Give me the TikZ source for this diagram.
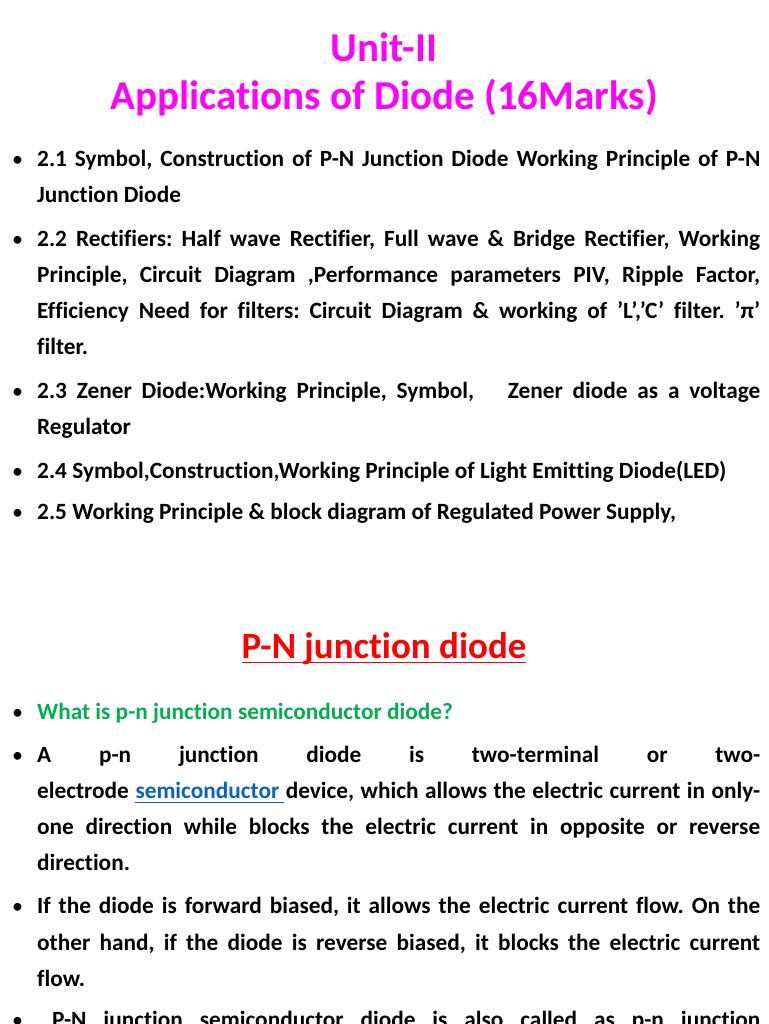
\documentclass[tikz,border=0pt]{standalone}
\usepackage{fontspec}
\setmainfont{Carlito}[Ligatures={NoCommon,NoRequired}]
\usetikzlibrary{calc}
\definecolor{mag}{HTML}{FF00FF}
\definecolor{grn}{HTML}{00B050}
\definecolor{lnk}{HTML}{0563C1}
\frenchspacing
\begin{document}
\begin{tikzpicture}[x=1pt,y=1pt,
  ln/.style={anchor=base west,inner sep=0pt,font=\fontsize{23.3}{26}\selectfont\bfseries},
  bul/.style={anchor=base west,inner sep=0pt,font=\fontsize{22}{24}\selectfont}]
\useasboundingbox (0,0) rectangle (768,-1024);
\clip (0,0) rectangle (768,-1024);
\newcommand\J[1]{\makebox[723pt][s]{#1}}
\newcommand\q{\char"27{}}
\node[anchor=center,text=mag,font=\fontsize{41}{46}\selectfont\bfseries] (t1) at (384,-47) {Unit-II};
\node[anchor=center,text=mag,font=\fontsize{41}{46}\selectfont\bfseries] (t2) at (384,-98) {Applications of Diode (16Marks)};
\foreach \y in {167,246,398,478,519,719,762,913,1027}{\node[bul] at (12,-\y) {•};}
\node[ln] (a1) at (37,-167) {\J{2.1 Symbol, Construction of P-N Junction Diode Working Principle of P-N}};
\node[ln] (a2) at (37,-203) {Junction Diode};
\node[ln] (b1) at (37,-246) {\J{2.2 Rectifiers: Half wave Rectifier, Full wave \& Bridge Rectifier, Working}};
\node[ln] (b2) at (37,-282) {\J{Principle, Circuit Diagram ,Performance parameters PIV, Ripple Factor,}};
\node[ln] (b3) at (37,-318) {\J{Efficiency Need for filters: Circuit Diagram \& working of \q L\q,\q C\q{} filter. \q π\q}};
\node[ln] (b4) at (37,-354) {filter.};
\node[ln] (c1) at (37,-398) {\J{2.3 Zener Diode:Working Principle, Symbol, \hspace{14pt} Zener diode as a voltage}};
\node[ln] (c2) at (37,-434) {Regulator};
\node[ln] (d1) at (37,-478) {2.4 Symbol,Construction,Working Principle of Light Emitting Diode(LED)};
\node[ln] (e1) at (37,-519) {2.5 Working Principle \& block diagram of Regulated Power Supply,};
\node[anchor=center,text=red,font=\fontsize{37}{42}\selectfont\bfseries] (h) at (384,-649) {P-N junction diode};
\draw[red,line width=1.6pt] ($(h.south west)+(4,6)$) -- ($(h.south east)+(-4,6)$);
\node[ln,text=grn] (g) at (37,-719) {What is p-n junction semiconductor diode?};
\node[ln] (f1) at (37,-762) {\J{A \hfill p-n \hfill junction \hfill diode \hfill is \hfill two-terminal \hfill or \hfill two-}};
\node[ln] (f2) at (37,-798) {\J{electrode \textcolor{lnk}{semiconductor\ }device, which allows the electric current in only-}};
\draw[lnk,line width=1pt] (135,-802) -- (284,-802);
\node[ln] (f3) at (37,-834) {\J{one direction while blocks the electric current in opposite or reverse}};
\node[ln] (f4) at (37,-870) {direction.};
\node[ln] (k1) at (37,-913) {\J{If the diode is forward biased, it allows the electric current flow. On the}};
\node[ln] (k2) at (37,-950) {\J{other hand, if the diode is reverse biased, it blocks the electric current}};
\node[ln] (k3) at (37,-986) {flow.};
\node[ln] (m1) at (52,-1027) {\makebox[708pt][s]{P-N junction semiconductor diode is also called as p-n junction}};
\end{tikzpicture}
\end{document}
